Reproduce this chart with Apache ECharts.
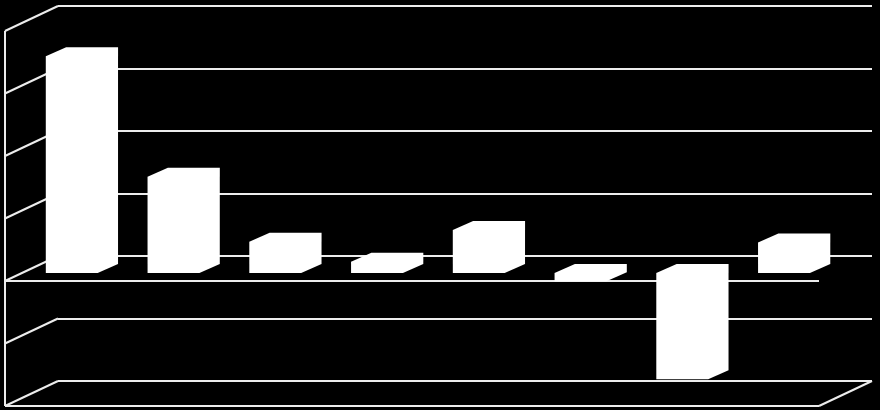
<!DOCTYPE html>
<html>
<head>
<meta charset="utf-8">
<style>html,body{margin:0;padding:0;background:#000}#c{width:880px;height:410px}</style>
<script src="https://cdn.jsdelivr.net/npm/echarts@6/dist/echarts.min.js"></script>
</head>
<body>
<div id="c"></div>
<script>
const categories = ['1','2','3','4','5','6','7','8'];
const values = [3.47, 1.54, 0.5, 0.18, 0.69, -0.13, -1.7, 0.49];
const ticks = [-2, -1, 0, 1, 2, 3, 4];
const lineColor = '#ececec';
const depthX = 53, depthY = 25;

const chart = echarts.init(document.getElementById('c'), null, {renderer: 'canvas'});
const lineStyle = {stroke: lineColor, lineWidth: 2, fill: null};
const seg = (x1, y1, x2, y2) => ({type: 'line', shape: {x1, y1, x2, y2}, style: lineStyle});

chart.setOption({
  animation: false,
  backgroundColor: '#000',
  grid: {left: 58, right: 8, top: 6, bottom: 29},
  xAxis: {type: 'category', data: categories, axisLine: {show: false}, axisTick: {show: false},
    axisLabel: {show: false}, splitLine: {show: false}},
  yAxis: {type: 'value', min: -2, max: 4, interval: 1, axisLine: {show: false}, axisTick: {show: false},
    axisLabel: {show: false}, splitLine: {show: true, lineStyle: {color: lineColor, width: 2}}},
  series: [
    {
      type: 'custom', silent: true, z: 2, clip: false,
      coordinateSystem: 'cartesian2d',
      data: ticks.map(t => [0, t]),
      renderItem(params, api) {
        const t = api.value(1);
        const first = 0, last = categories.length - 1;
        const w = api.size([1, 0])[0];
        const left = api.coord([first, t])[0] - w / 2;
        const right = api.coord([last, t])[0] + w / 2;
        const y = api.coord([first, t])[1];
        const items = [seg(left, y, left - depthX, y + depthY)];
        if (t === 0) items.push(seg(left - depthX, y + depthY, right - depthX, y + depthY));
        if (t === ticks[0]) {
          items.push(seg(left - depthX, y + depthY, right - depthX, y + depthY));
          items.push(seg(right - depthX, y + depthY, right, y));
          const yTop = api.coord([first, ticks[ticks.length - 1]])[1];
          items.push(seg(left - depthX, yTop + depthY, left - depthX, y + depthY));
        }
        return {type: 'group', children: items};
      }
    },
    {
      type: 'custom', silent: true, z: 3, clip: false,
      coordinateSystem: 'cartesian2d',
      data: values.map((v, i) => [i, v]),
      renderItem(params, api) {
        const i = api.value(0), v = api.value(1);
        const w = api.size([1, 0])[0];
        const c = api.coord([i, 0])[0];
        const y0 = api.coord([i, 0])[1], yv = api.coord([i, v])[1];
        const yT = Math.min(y0, yv), yB = Math.max(y0, yv);
        const L = c - w * 0.62, R = c - w * 0.11, R2 = c + w * 0.09;
        const side = R2 - R, fy = 17, by = 8;
        return {
          type: 'polygon',
          shape: {points: [[L, yT + fy], [L + side, yT + by], [R2, yT + by], [R2, yB + by], [R, yB + fy], [L, yB + fy]]},
          style: {fill: '#fff', stroke: null}
        };
      }
    }
  ]
});
</script>
</body>
</html>
